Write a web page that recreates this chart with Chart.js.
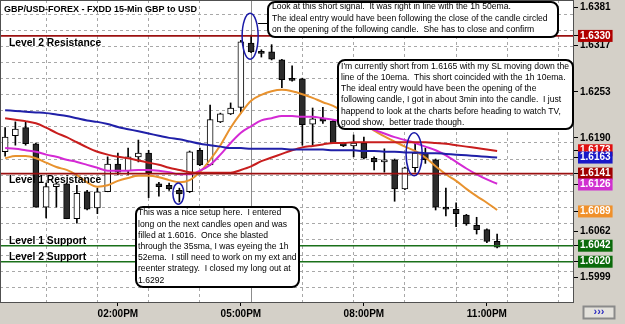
<!DOCTYPE html>
<html>
<head>
<meta charset="utf-8">
<script src="https://cdn.jsdelivr.net/npm/chart.js@4"></script>
<style>
html, body { margin: 0; padding: 0; background: #d4d0c8; }
#wrap { width: 625px; height: 324px; }
</style>
</head>
<body>
<div id="wrap"><canvas id="c" width="625" height="324"></canvas></div>
<script>
// 15 min candles, GBP/USD
const times = ['11:15AM','11:30AM','11:45AM','12:00PM','12:15PM','12:30PM','12:45PM','01:00PM','01:15PM','01:30PM','01:45PM',
  '02:00PM','02:15PM','02:30PM','02:45PM','03:00PM','03:15PM','03:30PM','03:45PM','04:00PM','04:15PM','04:30PM','04:45PM',
  '05:00PM','05:15PM','05:30PM','05:45PM','06:00PM','06:15PM','06:30PM','06:45PM','07:00PM','07:15PM','07:30PM','07:45PM',
  '08:00PM','08:15PM','08:30PM','08:45PM','09:00PM','09:15PM','09:30PM','09:45PM','10:00PM','10:15PM','10:30PM','10:45PM',
  '11:00PM','11:15PM','11:30PM','11:45PM','12:00AM','12:15AM','12:30AM','12:45AM','01:00AM'];
const tickLabels = ['02:00PM', '05:00PM', '08:00PM', '11:00PM'];

const open  = [1.6171,1.6193,1.6204,1.6182,1.6095,1.6123,1.6127,1.6079,1.6116,1.6094,1.6116,1.6154,1.6145,1.6164,1.6169,1.6127,1.6125,
  1.6118,1.6116,1.6173,1.6153,1.6212,1.6223,1.6232,1.6320,1.6307,1.6308,1.6297,1.6270,1.6271,1.6209,1.6217,1.6213,1.6183,1.6179,
  1.6183,1.6162,1.6157,1.6160,1.6120,1.6149,1.6169,1.6160,1.6095,1.6092,1.6084,1.6070,1.6064,1.6048];
const high  = [1.6204,1.6212,1.6212,1.6183,1.6128,1.6128,1.6128,1.6125,1.6118,1.6121,1.6164,1.6169,1.6176,1.6187,1.6173,1.6129,1.6128,
  1.6121,1.6172,1.6176,1.6235,1.6224,1.6238,1.6324,1.6331,1.6311,1.6318,1.6298,1.6289,1.6272,1.6231,1.6232,1.6214,1.6184,1.6194,
  1.6191,1.6164,1.6175,1.6161,1.6150,1.6183,1.6176,1.6161,1.6121,1.6101,1.6085,1.6081,1.6065,1.6058];
const low   = [1.6165,1.6180,1.6180,1.6095,1.6080,1.6095,1.6079,1.6073,1.6091,1.6086,1.6116,1.6139,1.6140,1.6157,1.6108,1.6110,1.6118,
  1.6102,1.6115,1.6152,1.6152,1.6211,1.6222,1.6224,1.6307,1.6301,1.6297,1.6259,1.6268,1.6180,1.6180,1.6210,1.6182,1.6178,1.6164,
  1.6161,1.6146,1.6143,1.6103,1.6119,1.6143,1.6155,1.6091,1.6083,1.6068,1.6070,1.6058,1.6046,1.6039];
const close = [1.6191,1.6202,1.6182,1.6095,1.6123,1.6127,1.6079,1.6114,1.6092,1.6116,1.6154,1.6143,1.6164,1.6169,1.6142,1.6123,1.6120,
  1.6113,1.6171,1.6153,1.6215,1.6223,1.6231,1.6322,1.6308,1.6306,1.6298,1.6270,1.6269,1.6208,1.6216,1.6213,1.6183,1.6179,1.6183,
  1.6162,1.6157,1.6160,1.6120,1.6149,1.6169,1.6160,1.6095,1.6092,1.6086,1.6072,1.6064,1.6048,1.6040];

const maBlue = [1.6228,1.6227,1.6226,1.6225,1.6224,1.6222,1.6220,1.6217,1.6214,1.6212,1.6209,1.6205,1.6202,1.6199,1.6196,1.6193,1.6190,
  1.6188,1.6185,1.6182,1.6180,1.6178,1.6176,1.6176,1.6175,1.6175,1.6175,1.6175,1.6174,1.6174,1.6174,1.6174,1.6173,1.6173,1.6173,
  1.6172,1.6172,1.6171,1.6171,1.6170,1.6170,1.6169,1.6169,1.6168,1.6167,1.6166,1.6165,1.6164,1.6163];
const maRed = [1.6217,1.6215,1.6213,1.6210,1.6204,1.6197,1.6191,1.6184,1.6177,1.6171,1.6167,1.6164,1.6162,1.6159,1.6156,1.6153,1.6149,
  1.6146,1.6143,1.6142,1.6142,1.6142,1.6142,1.6146,1.6151,1.6158,1.6163,1.6168,1.6173,1.6177,1.6179,1.6181,1.6183,1.6183,1.6184,
  1.6184,1.6184,1.6184,1.6184,1.6184,1.6184,1.6184,1.6183,1.6182,1.6180,1.6178,1.6176,1.6174,1.6172];
const maMagenta = [1.6176,1.6175,1.6173,1.6171,1.6167,1.6164,1.6160,1.6157,1.6153,1.6149,1.6145,1.6145,1.6145,1.6146,1.6146,1.6145,1.6143,
  1.6140,1.6140,1.6145,1.6153,1.6167,1.6183,1.6197,1.6206,1.6214,1.6217,1.6220,1.6220,1.6219,1.6219,1.6217,1.6215,1.6212,1.6209,
  1.6205,1.6201,1.6196,1.6191,1.6187,1.6183,1.6178,1.6173,1.6166,1.6157,1.6148,1.6140,1.6133,1.6127];
const maOrange = [1.6162,1.6165,1.6165,1.6162,1.6156,1.6150,1.6146,1.6139,1.6129,1.6123,1.6125,1.6131,1.6135,1.6138,1.6138,1.6136,1.6132,
  1.6129,1.6132,1.6143,1.6160,1.6180,1.6204,1.6224,1.6241,1.6249,1.6254,1.6256,1.6254,1.6250,1.6245,1.6239,1.6234,1.6226,1.6218,
  1.6208,1.6200,1.6192,1.6185,1.6178,1.6172,1.6163,1.6151,1.6140,1.6131,1.6120,1.6110,1.6101,1.6091];

const levels = [1.6330, 1.6141, 1.6042, 1.6020];
const levelNames = ['Level 2 Resistance', 'Level 1 Resistance', 'Level 1 Support', 'Level 2 Support'];
const levelColors = ['#9b1010', '#9b1010', '#1a701a', '#1a701a'];

const axisTicks = [1.6317, 1.6253, 1.6190, 1.6062, 1.5999];
const axisTop = 1.6381;
const priceTags = [1.6330, 1.6173, 1.6163, 1.6141, 1.6126, 1.6089, 1.6042, 1.6020];
const tagColors = ['#b00000', '#e01010', '#1818c8', '#a00000', '#d030d0', '#f0902a', '#0a6a0a', '#0a6a0a'];
const gridPrices = [1.6359,1.6337,1.6315,1.6293,1.6271,1.6249,1.6227,1.6205,1.6183,1.6161,1.6139,1.6117,1.6095,1.6073,1.6051,1.6029,1.6007,1.5985];

const yMin = 1.59647, yMax = 1.63793;

// circled candles: index, top price, bottom price, half width
const ovals = [[24, 1.6361, 1.6298, 8], [40, 1.6197, 1.6138, 8], [17, 1.6128, 1.6099, 5.5]];

const notes = [
  { x: 268, y: 2, w: 290, h: 35, tx: 272, ty: 7, lines: [
    'Look at this short signal.  It was right in line with the 1h 50ema.',
    'The ideal entry would have been following the close of the candle circled',
    'on the opening of the following candle.  She has to close and confirm'] },
  { x: 338, y: 60, w: 235, h: 69, tx: 341, ty: 66.5, lines: [
    "I'm currently short from 1.6165 with my SL moving down the",
    'line of the 10ema.  This short coincided with the 1h 10ema.',
    'The ideal entry would have been the opening of the',
    'following candle, I got in about 3min into the candle.  I just',
    'happend to look at the charts before heading to watch TV,',
    'good show,  better trade though.'] },
  { x: 136, y: 207, w: 163, h: 80, tx: 138, ty: 213, lines: [
    'This was a nice setup here.  I entered',
    'long on the next candles open and was',
    'filled at 1.6016.  Once she blasted',
    'through the 35sma, I was eyeing the 1h',
    '52ema.  I still need to work on my ext and',
    'reenter strategy.  I closed my long out at',
    '1.6292'] }
];

const FONT = '"Liberation Sans", Arial, sans-serif';

const noPad = s => { s.paddingTop = 0; s.paddingBottom = 0; s.paddingLeft = 0; s.paddingRight = 0; };

const decor = {
  id: 'decor',
  beforeDraw(chart) {
    const {ctx, chartArea: a} = chart;
    ctx.save();
    ctx.fillStyle = '#d4d0c8';
    ctx.fillRect(0, 0, chart.width, chart.height);
    ctx.fillStyle = '#ffffff';
    ctx.fillRect(a.left, a.top, a.right - a.left, a.bottom - a.top);
    ctx.restore();
  },
  beforeDatasetsDraw(chart) {
    const {ctx, chartArea: a, scales} = chart;
    const x = Math.round(scales.x.getPixelForValue(24)) + 0.5;
    ctx.save();
    ctx.strokeStyle = '#8c8c8c';
    ctx.lineWidth = 1;
    ctx.beginPath();
    ctx.moveTo(x, a.top);
    ctx.lineTo(x, a.bottom);
    ctx.stroke();
    ctx.restore();
  },
  afterDatasetsDraw(chart) {
    const {ctx, chartArea: a, scales} = chart;
    const y = scales.y;
    ctx.save();
    levels.forEach((v, i) => {
      const py = y.getPixelForValue(v);
      ctx.strokeStyle = levelColors[i];
      ctx.lineWidth = 1.6;
      ctx.beginPath();
      ctx.moveTo(a.left, py);
      ctx.lineTo(a.right, py);
      ctx.stroke();
      ctx.fillStyle = '#000';
      ctx.font = 'bold 10.3px ' + FONT;
      ctx.textBaseline = 'middle';
      ctx.fillText(levelNames[i], 9, i < 2 ? py + 7 : py - 4.5);
    });
    ctx.strokeStyle = '#1a1aa8';
    ctx.lineWidth = 1.5;
    ovals.forEach(([idx, top, bot, rx]) => {
      const cx = scales.x.getPixelForValue(idx) - 1;
      const t = y.getPixelForValue(top), b = y.getPixelForValue(bot);
      ctx.beginPath();
      ctx.ellipse(cx, (t + b) / 2, rx, (b - t) / 2, 0, 0, Math.PI * 2);
      ctx.stroke();
    });
    ctx.strokeStyle = '#505050';
    ctx.lineWidth = 1;
    ctx.strokeRect(a.left + 0.5, a.top + 0.5, a.right - a.left - 1, a.bottom - a.top);
    ctx.restore();
  },
  afterDraw(chart) {
    const {ctx, chartArea: a, scales} = chart;
    ctx.save();
    ctx.fillStyle = '#000';
    ctx.font = 'bold 9px ' + FONT;
    ctx.textBaseline = 'middle';
    ctx.fillText('GBP/USD-FOREX - FXDD 15-Min GBP to USD', 4, 10);

    // connector from first note to the circled candle
    const cx = scales.x.getPixelForValue(ovals[0][0]) - 1 + ovals[0][3];
    ctx.strokeStyle = '#000';
    ctx.lineWidth = 1;
    ctx.beginPath();
    ctx.moveTo(cx, 23.5);
    ctx.lineTo(notes[0].x, 23.5);
    ctx.stroke();

    notes.forEach(n => {
      ctx.beginPath();
      ctx.roundRect(n.x, n.y, n.w, n.h, 7);
      ctx.fillStyle = '#fff';
      ctx.fill();
      ctx.lineWidth = 2;
      ctx.strokeStyle = '#000';
      ctx.stroke();
      ctx.fillStyle = '#000';
      ctx.font = '8.6px ' + FONT;
      ctx.textBaseline = 'middle';
      n.lines.forEach((s, k) => ctx.fillText(s, n.tx, n.ty + k * 11.2));
    });

    // top price label, kept inside the panel
    const py = Math.max(scales.y.getPixelForValue(axisTop), 7);
    ctx.fillStyle = '#000';
    ctx.fillRect(a.right, py, 4, 1);
    ctx.font = 'bold 10px ' + FONT;
    ctx.fillText(axisTop.toFixed(4), a.right + 6, py);

    // scroll button
    ctx.fillStyle = '#e4e2dc';
    ctx.fillRect(583, 306, 31, 12);
    ctx.strokeStyle = '#8a8a8a';
    ctx.strokeRect(583.5, 306.5, 31, 12);
    ctx.fillStyle = '#2a2ac0';
    ctx.font = 'bold 11px ' + FONT;
    ctx.textAlign = 'center';
    ctx.fillText('\u203A\u203A\u203A', 599, 312);
    ctx.restore();
  }
};

const bodies = open.map((o, i) => [Math.min(o, close[i]), Math.max(o, close[i])]);
const wicks = low.map((l, i) => [l, high[i]]);
const bodyColors = open.map((o, i) => close[i] >= o ? '#ffffff' : '#2b2b2b');

const lineDs = (data, color) => ({
  type: 'line', data, borderColor: color, borderWidth: 2, pointRadius: 0,
  cubicInterpolationMode: 'monotone', fill: false, order: 0, yAxisID: 'y'
});

new Chart(document.getElementById('c'), {
  type: 'bar',
  data: {
    labels: times,
    datasets: [
      { data: bodies, backgroundColor: bodyColors, borderColor: '#000', borderWidth: 1, borderSkipped: false,
        barThickness: 6, minBarLength: 2, grouped: false, order: 1, yAxisID: 'y' },
      { data: wicks, backgroundColor: '#000', borderWidth: 0, barThickness: 1, grouped: false, order: 2, yAxisID: 'y' },
      lineDs(maBlue, '#2020a8'),
      lineDs(maRed, '#c81e1e'),
      lineDs(maMagenta, '#d42ad4'),
      lineDs(maOrange, '#e8922e')
    ]
  },
  options: {
    responsive: false,
    animation: false,
    layout: { padding: 0 },
    plugins: { legend: { display: false }, tooltip: { enabled: false } },
    scales: {
      x: {
        offset: true,
        grid: {
          offset: false,
          color: ctx => ctx.index % 5 === 4 ? '#a8a8a8' : 'rgba(0,0,0,0)',
          tickColor: ctx => tickLabels.includes(times[ctx.index]) ? '#000' : 'rgba(0,0,0,0)',
          tickLength: 4
        },
        border: { display: false, dash: [3, 3] },
        ticks: {
          autoSkip: false, maxRotation: 0, minRotation: 0, padding: 2,
          color: '#000', font: { size: 10, weight: 'bold', family: FONT },
          callback: (v, i) => tickLabels.includes(times[i]) ? times[i] : ''
        },
        afterFit(s) { s.height = 22; noPad(s); }
      },
      y: {
        position: 'right', min: yMin, max: yMax,
        afterBuildTicks(s) { s.ticks = axisTicks.concat(priceTags).map(v => ({ value: v })); },
        grid: { drawOnChartArea: false, tickLength: 4, color: '#000' },
        border: { display: false },
        ticks: {
          autoSkip: false, padding: 2,
          font: { size: 10, weight: 'bold', family: FONT },
          color: ctx => priceTags.includes(ctx.tick.value) ? '#fff' : '#000',
          showLabelBackdrop: ctx => priceTags.includes(ctx.tick.value),
          backdropColor: ctx => tagColors[priceTags.indexOf(ctx.tick.value)] || 'rgba(0,0,0,0)',
          backdropPadding: { top: 0, bottom: 0, left: 2, right: 2 },
          callback: v => v.toFixed(4)
        },
        afterFit(s) { s.width = 51; noPad(s); }
      },
      yg: {
        position: 'right', min: yMin, max: yMax,
        afterBuildTicks(s) { s.ticks = gridPrices.map(v => ({ value: v })); },
        ticks: { display: false },
        grid: { color: '#a8a8a8', drawTicks: false },
        border: { display: false, dash: [3, 3] },
        afterFit(s) { s.width = 0; noPad(s); }
      }
    }
  },
  plugins: [decor]
});
</script>
</body>
</html>
